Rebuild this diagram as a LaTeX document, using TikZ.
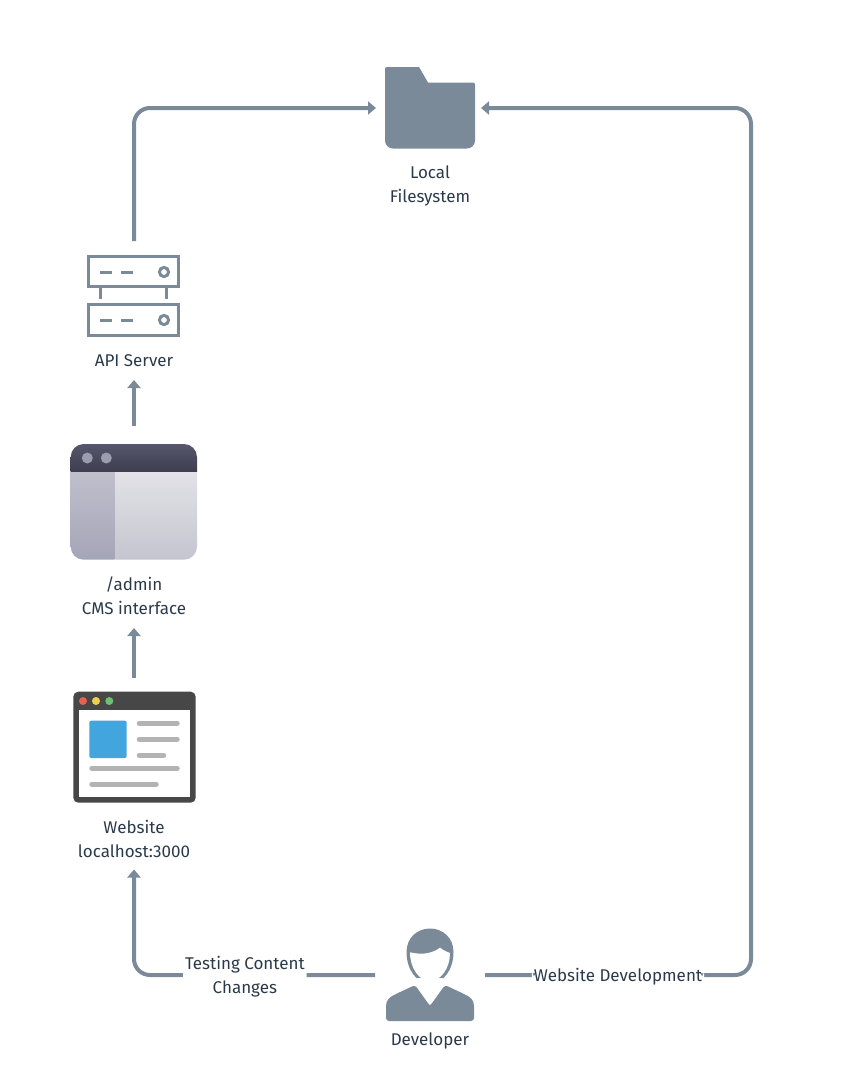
\documentclass[tikz,border=0pt]{standalone}
\usepackage{fontspec}
\setmainfont{Fira Sans}
\usetikzlibrary{arrows.meta}
\definecolor{flowgray}{HTML}{7A8A99}
\definecolor{textdark}{HTML}{2B3A4A}
\definecolor{barcolor}{HTML}{B3B3B3}
\definecolor{windowdark}{HTML}{474747}
\definecolor{blockblue}{HTML}{42A5DE}
\definecolor{dotred}{HTML}{E8604F}
\definecolor{dotyellow}{HTML}{EFCF4F}
\definecolor{dotgreen}{HTML}{6CC070}
\definecolor{dotgray}{HTML}{9C9CB0}
\definecolor{paneltop}{HTML}{E2E2E7}
\definecolor{panelbottom}{HTML}{C5C5D0}
\definecolor{sidetop}{HTML}{C0BFCC}
\definecolor{sidebottom}{HTML}{A5A5B8}
\definecolor{headtop}{HTML}{56576C}
\definecolor{headbottom}{HTML}{3E3E50}
\tikzset{
  iconbox/.style={inner sep=0pt, outer sep=0pt},
  caption/.style={inner sep=0pt, outer sep=0pt, align=center, text=textdark, font=\fontsize{17}{24}\selectfont},
  flowlabel/.style={caption, fill=white, inner xsep=2pt, yshift=-1.5pt},
  flow/.style={draw=flowgray, line width=4pt, rounded corners=16pt, -{Triangle[width=13pt,length=8pt]}},
  srvline/.style={draw=flowgray, line width=3pt},
  barline/.style={draw=barcolor, line width=5.5pt, line cap=round},
}
\begin{document}
\begin{tikzpicture}[x=1pt, y=-1pt]
    \useasboundingbox (0,0) rectangle (861,1090);

    % Folder
    \fill[flowgray] (402,67) [rounded corners=2pt] -- (385,67) [rounded corners=8pt] -- (385,148.5) -- (475,148.5) [rounded corners=2pt] -- (475,82.5) [sharp corners] -- (428,82.5) -- (419,67) -- cycle;
    \node[iconbox, minimum width=105pt, minimum height=82pt] (folder) at (428.5,108) {};
    \node[caption] (folderlabel) at (430,186) {Local\\Filesystem};

    % Server
    \draw[srvline] (88.8,256.8) rectangle (178.8,286.8);
    \draw[srvline] (88.8,304.8) rectangle (178.8,335.2);
    \draw[srvline] (100.7,288) -- (100.7,299);
    \draw[srvline] (166.7,288) -- (166.7,299);
    \foreach \y in {272,320} {
        \draw[srvline] (99.5,\y) -- (112,\y);
        \draw[srvline] (120.5,\y) -- (133,\y);
        \draw[srvline] (164,\y) circle (4.6);
    }
    \node[iconbox, minimum width=94pt, minimum height=110pt] (server) at (134,296) {};
    \node[caption, minimum height=38pt] (serverlabel) at (134,361) {API Server};

    % Admin window
    \begin{scope}
        \clip[rounded corners=13pt] (70.7,444) rectangle (197,559.7);
        \shade[top color=paneltop, bottom color=panelbottom] (114.3,471) rectangle (197,559.7);
        \shade[top color=sidetop, bottom color=sidebottom] (70.7,471) rectangle (114.3,559.7);
        \shade[top color=headtop, bottom color=headbottom] (70.7,444) rectangle (197,471);
    \end{scope}
    \foreach \x in {87.3,106.3}
        \fill[dotgray] (\x,458) circle (5.5);
    \node[iconbox, minimum width=126pt, minimum height=152pt] (admin) at (134,502) {};
    \node[caption, minimum height=64pt] (adminlabel) at (134,596) {/admin\\CMS interface};

    % Website window
    \fill[windowdark, rounded corners=5pt] (73.3,691.7) rectangle (195.7,802.7);
    \fill[white] (79,710.3) rectangle (190,797.3);
    \fill[dotred] (83,701) circle (4);
    \fill[dotyellow] (96,701) circle (4);
    \fill[dotgreen] (109.3,701) circle (4);
    \fill[blockblue, rounded corners=2pt] (89.3,720.7) rectangle (126.7,758);
    \draw[barline] (139.5,723.3) -- (177,723.3);
    \draw[barline] (139.5,739.3) -- (177,739.3);
    \draw[barline] (139.5,755.3) -- (163.5,755.3);
    \draw[barline] (92,768.3) -- (177,768.3);
    \draw[barline] (92,784.3) -- (156,784.3);
    \node[iconbox, minimum width=122pt, minimum height=139pt] (website) at (134,747.5) {};
    \node[caption, minimum height=62pt] (websitelabel) at (134,838.5) {Website\\localhost:3000};

    % Developer
    \fill[flowgray, rounded corners=3pt] (386,1021) -- (386,1009) .. controls (386,1000) and (390,997) .. (396,994) -- (415,985) -- (430,1006) -- (445,985) -- (464,994) .. controls (470,997) and (474,1000) .. (474,1009) -- (474,1021) -- cycle;
    \fill[flowgray] (406.5,952) .. controls (406.5,938) and (417,928.5) .. (430,928.5) .. controls (443,928.5) and (453.5,938) .. (453.5,952) .. controls (453.5,970) and (443,983.5) .. (430,983.5) .. controls (417,983.5) and (406.5,970) .. (406.5,952) -- cycle;
    \fill[white] (410,952.3) .. controls (417,954) and (424,954) .. (428,953) .. controls (433,952) and (437,950) .. (440,947.7) .. controls (443,950) and (447,952) .. (450,953) .. controls (450,968) and (441,981) .. (430,981) .. controls (419,981) and (410,968) .. (410,952.3) -- cycle;
    \fill[white] (417,978) -- (430,1005.5) -- (443,978) -- cycle;
    \node[iconbox, minimum width=110pt, minimum height=94pt] (developer) at (430,975) {};
    \node[caption] (developerlabel) at (430,1040.5) {Developer};

    \coordinate (rightturn) at (751,975);

    % Connectors
    \draw[flow] (server.north) |- (folder.west);
    \draw[flow] (admin.north) -- (serverlabel.south);
    \draw[flow] (website.north) -- (adminlabel.south);
    \draw[flow] (developer.west) -| node[flowlabel, pos=0.27] (testinglabel) {Testing Content\\Changes} (websitelabel.south);
    \draw[flow] (developer.east) -- node[flowlabel, pos=0.5] (devlabel) {Website Development} (rightturn) |- (folder.east);
\end{tikzpicture}
\end{document}
